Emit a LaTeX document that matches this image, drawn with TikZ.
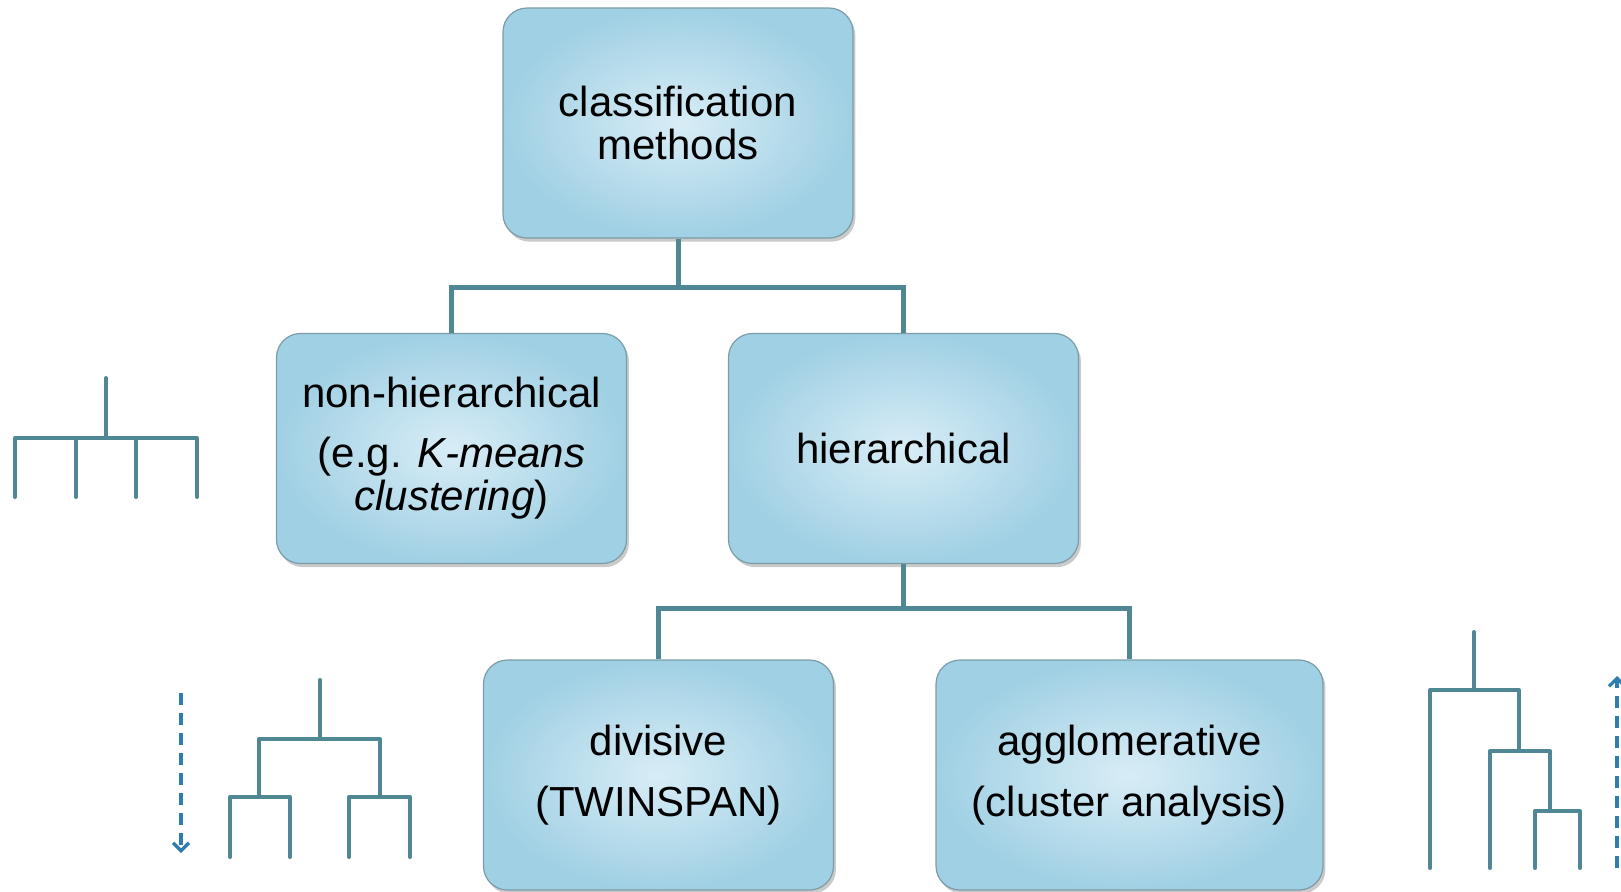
\documentclass[tikz,border=0pt]{standalone}
\usepackage{fontspec}
\setmainfont{Liberation Sans}
\usetikzlibrary{arrows.meta,shadows}
\definecolor{conncol}{HTML}{4F8795}
\definecolor{dashcol}{HTML}{2E7DB0}
\definecolor{boxedge}{HTML}{7C9CA8}
\definecolor{boxB}{HTML}{D8EDF6}
\definecolor{boxC}{HTML}{A0D0E4}
\begin{document}
\begin{tikzpicture}[x=0.5pt,y=-0.5pt,
  box/.style={draw=boxedge, line width=0.6pt, rounded corners=12pt,
    inner color=boxB, outer color=boxC,
    drop shadow={shadow xshift=1.2pt, shadow yshift=-1.8pt, opacity=0.35, fill=black!60},
    minimum width=175pt, minimum height=115pt, align=center, inner sep=2pt,
    font=\fontsize{21}{21.75}\selectfont},
  conn/.style={draw=conncol, line width=2.5pt},
  tree/.style={draw=conncol, line width=2pt, line cap=round, line join=round},
  darrow/.style={draw=dashcol, line width=1.8pt, dash pattern=on 6pt off 4pt,
    -{Straight Barb[length=4pt,width=8pt,line width=1.6pt]}}]
\useasboundingbox (0,0) rectangle (1621,891);

% boxes
\node[box] (top) at (678,123) {classification\\methods};
\node[box] (nonhier) at (451.5,448.5) {non-hierarchical\\[8pt](e.g. \textit{K-means}\\\textit{clustering})};
\node[box] (hier) at (903.5,448.5) {hierarchical};
\node[box] (div) at (658.5,775) {divisive\\[9pt](TWINSPAN)};
\node[box, minimum width=193.5pt] (agg) at (1129.5,775) {agglomerative\\[9pt](cluster analysis)};

% connectors
\coordinate (j1) at (678,287);
\coordinate (j2) at (903.5,608);
\draw[conn] (top.south) -- (j1);
\draw[conn] (nonhier.north) |- (j1) -| (hier.north);
\draw[conn] (hier.south) -- (j2);
\draw[conn] (div.north) |- (j2) -| (agg.north);

% left flat tree
\coordinate (a0) at (106,378);
\coordinate (a1) at (106,438);
\draw[tree] (a0) -- (a1);
\draw[tree] (15,497) -- (15,438) -- (197,438) -- (197,497);
\draw[tree] (76,438) -- (76,497);
\draw[tree] (136,438) -- (136,497);

% bottom-left divisive tree
\draw[tree] (320,680) -- (320,739);
\draw[tree] (259,797) -- (259,739) -- (380,739) -- (380,797);
\draw[tree] (230,857) -- (230,797) -- (290,797) -- (290,857);
\draw[tree] (349,857) -- (349,797) -- (410,797) -- (410,857);
\coordinate (d0) at (181,693);
\coordinate (d1) at (181,853);
\draw[darrow] (d0) -- (d1);

% right agglomerative tree
\draw[tree] (1474,632) -- (1474,690);
\draw[tree] (1430,868) -- (1430,690) -- (1519,690) -- (1519,751);
\draw[tree] (1490,868) -- (1490,751) -- (1550,751) -- (1550,811);
\draw[tree] (1535,868) -- (1535,811) -- (1580,811) -- (1580,868);
\coordinate (u0) at (1617,868);
\coordinate (u1) at (1617,676);
\draw[darrow] (u0) -- (u1);
\end{tikzpicture}
\end{document}
